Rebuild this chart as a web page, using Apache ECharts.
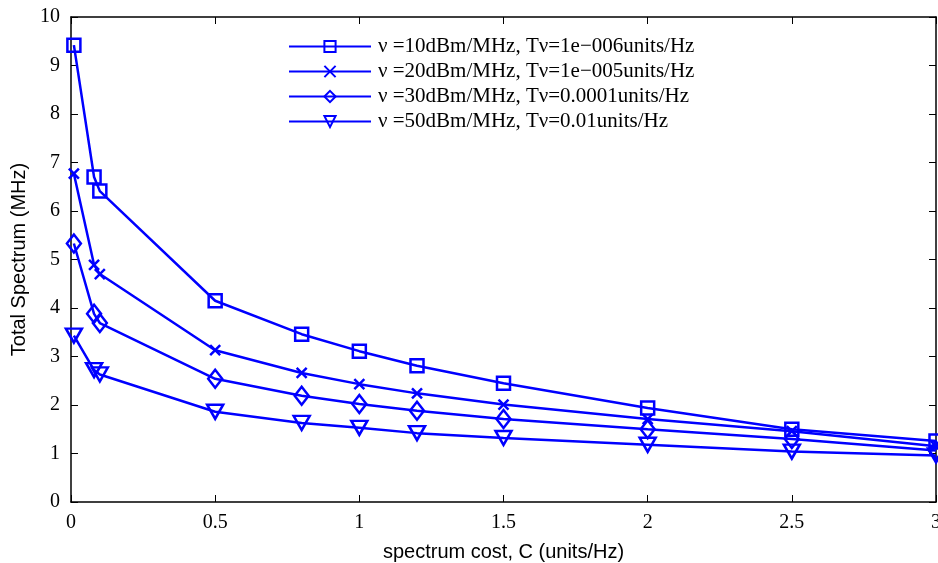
<!DOCTYPE html>
<html>
<head>
<meta charset="utf-8">
<script src="https://cdn.jsdelivr.net/npm/echarts@6/dist/echarts.min.js"></script>
<style>html,body{margin:0;padding:0;background:#fff;}#c{width:938px;height:563px;}</style>
</head>
<body>
<div id="c"></div>
<script>
const xValues = [0.01, 0.08, 0.1, 0.5, 0.8, 1, 1.2, 1.5, 2, 2.5, 3];
const seriesNames = [
  'ν =10dBm/MHz, Tν=1e\u2212006units/Hz',
  'ν =20dBm/MHz, Tν=1e\u2212005units/Hz',
  'ν =30dBm/MHz, Tν=0.0001units/Hz',
  'ν =50dBm/MHz, Tν=0.01units/Hz'
];
const s10 = [9.42, 6.70, 6.41, 4.15, 3.46, 3.11, 2.81, 2.45, 1.94, 1.50, 1.26];
const s20 = [6.77, 4.89, 4.70, 3.13, 2.66, 2.43, 2.24, 2.01, 1.71, 1.46, 1.15];
const s30 = [5.33, 3.88, 3.69, 2.54, 2.19, 2.02, 1.88, 1.71, 1.50, 1.30, 1.06];
const s50 = [3.43, 2.72, 2.63, 1.86, 1.63, 1.53, 1.42, 1.32, 1.18, 1.04, 0.96];
const xTicks = [0, 0.5, 1, 1.5, 2, 2.5, 3];
const yTicks = [0,1,2,3,4,5,6,7,8,9,10];

const BLUE = '#0000ff';
const symbols = [
  {s:'rect', size:13},
  {s:'path://M0,0L10,10M10,0L0,10', size:10},
  {s:'path://M5,0L10,7L5,14L0,7Z', size:[14,18]},
  {s:'path://M0,0L12,0L6,11Z', size:[16,14]}
];
const datas = [s10, s20, s30, s50];

const series = datas.map((d, i) => ({
  name: seriesNames[i],
  type: 'line',
  data: d.map((v, j) => [xValues[j], v]),
  symbol: symbols[i].s,
  symbolSize: symbols[i].size,
  showAllSymbol: true,
  lineStyle: {color: BLUE, width: 2.5},
  itemStyle: {color: 'rgba(255,255,255,0)', borderColor: BLUE, borderWidth: 2.5},
  emphasis: {disabled: true},
  animation: false,
  z: 5
}));

const axisLine = {show: true, onZero: false, lineStyle: {color: '#000', width: 1.5}};
const tick = {show: true, inside: true, length: 7, lineStyle: {color: '#000', width: 1}};
const labelFont = {fontFamily: 'Liberation Serif', fontSize: 20, color: '#000'};

const chart = echarts.init(document.getElementById('c'));
chart.setOption({
  backgroundColor: '#fff',
  animation: false,
  grid: {left: 71, right: 2, top: 17, bottom: 61, containLabel: false, outerBoundsMode: 'none'},
  legend: {
    orient: 'vertical',
    left: 283,
    top: 31,
    itemWidth: 82,
    itemHeight: 14,
    itemGap: 4,
    data: seriesNames,
    textStyle: {fontFamily: 'Liberation Serif', fontSize: 21, color: '#000', padding: [0,0,0,2]},
    selectedMode: false
  },
  xAxis: [
    {
      type: 'value', min: 0, max: 3, interval: 0.5, position: 'bottom',
      axisLine: axisLine, axisTick: tick, splitLine: {show: false},
      axisLabel: Object.assign({margin: 11, formatter: v => String(v), hideOverlap: false}, labelFont),
      name: 'spectrum cost, C (units/Hz)', nameLocation: 'middle', nameGap: 40,
      nameTextStyle: {fontFamily: 'Liberation Sans', fontSize: 20, color: '#000'}
    },
    {
      type: 'value', min: 0, max: 3, interval: 0.5, position: 'top',
      axisLine: axisLine, axisTick: tick, splitLine: {show: false},
      axisLabel: {show: false}
    }
  ],
  yAxis: [
    {
      type: 'value', min: 0, max: 10, interval: 1, position: 'left',
      axisLine: axisLine, axisTick: tick, splitLine: {show: false},
      axisLabel: Object.assign({margin: 11}, labelFont),
      name: 'Total Spectrum (MHz)', nameLocation: 'middle', nameGap: 42,
      nameTextStyle: {fontFamily: 'Liberation Sans', fontSize: 20, color: '#000'}
    },
    {
      type: 'value', min: 0, max: 10, interval: 1, position: 'right',
      axisLine: axisLine, axisTick: tick, splitLine: {show: false},
      axisLabel: {show: false}
    }
  ],
  series: series
});
</script>
</body>
</html>
